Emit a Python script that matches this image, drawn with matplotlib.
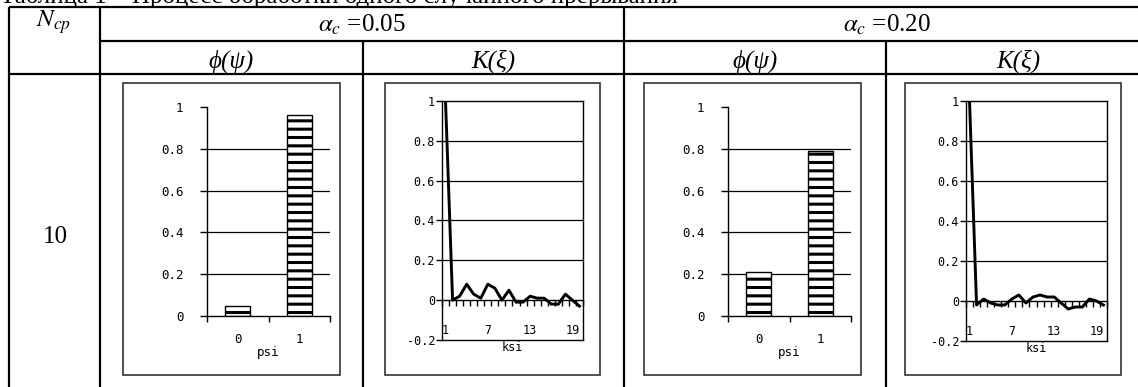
import numpy as np
import matplotlib
matplotlib.use("Agg")
import matplotlib.pyplot as plt
from matplotlib.patches import Rectangle

W, H = 1138, 387

caption = "Таблица 1 – Процесс обработки одного случайного прерывания"
n_cp = "10"
alpha_labels = ["0.05", "0.20"]

psi_cats = [0, 1]
phi_005 = [0.05, 0.96]
phi_020 = [0.21, 0.79]

ksi = list(range(1, 21))
k_005 = [1.0, 0.0, 0.02, 0.08, 0.03, 0.01, 0.08, 0.06, 0.0, 0.05,
         -0.01, -0.01, 0.02, 0.01, 0.01, -0.02, -0.02, 0.03, 0.0, -0.03]
k_020 = [1.0, -0.02, 0.01, -0.01, -0.02, -0.02, 0.01, 0.03, -0.01, 0.02,
         0.03, 0.02, 0.02, -0.01, -0.04, -0.03, -0.03, 0.01, 0.0, -0.02]
ksi_labels = [1, 7, 13, 19]

phi_yticks = [0, 0.2, 0.4, 0.6, 0.8, 1]
k_yticks = [-0.2, 0, 0.2, 0.4, 0.6, 0.8, 1]

plt.rcParams['font.family'] = 'DejaVu Sans Mono'
plt.rcParams['mathtext.fontset'] = 'stix'
plt.rcParams['hatch.linewidth'] = 2.2

SERIF = ['Liberation Serif', 'DejaVu Serif']

fig = plt.figure(figsize=(W / 100, H / 100), dpi=100)
base = fig.add_axes([0, 0, 1, 1])
base.set_xlim(0, W)
base.set_ylim(H, 0)
base.axis('off')


def px_axes(l, t, r, b):
    return fig.add_axes([l / W, 1 - b / H, (r - l) / W, (b - t) / H])


# таблица
lw_tab = 1.6
base.hlines(7, 9, W, color='black', lw=lw_tab)
base.hlines(41, 100, W, color='black', lw=lw_tab)
base.hlines(74, 9, W, color='black', lw=lw_tab)
base.vlines([9, 100, 624], 7, H, color='black', lw=lw_tab)
base.vlines([363, 886], 41, H, color='black', lw=lw_tab)

base.text(0, 2.5, caption, fontsize=18, family=SERIF, va='baseline', ha='left')
base.text(54, 22, r'$N_{cp}$', fontsize=18, ha='center', va='center')
for cx, a in zip([362, 887], alpha_labels):
    base.text(cx, 25, r'$\alpha_c$ =' + a, fontsize=18, family=SERIF,
              ha='center', va='center')
for cx in [231, 755]:
    base.text(cx, 68, 'ϕ(ψ)', fontsize=18, family=SERIF, style='italic',
              ha='center', va='baseline')
for cx in [493, 1018]:
    base.text(cx, 68, 'K(ξ)', fontsize=18, family=SERIF, style='italic',
              ha='center', va='baseline')
base.text(55, 237, n_cp, fontsize=18, family=SERIF, ha='center', va='center')

panels = [
    dict(kind='phi', vals=phi_005, box=(123, 83, 340, 375), plot=(207, 107, 330, 316)),
    dict(kind='k', vals=k_005, box=(385, 83, 600, 375), plot=(442, 101, 583, 340)),
    dict(kind='phi', vals=phi_020, box=(644, 83, 861, 375), plot=(728, 107, 851, 316)),
    dict(kind='k', vals=k_020, box=(905, 83, 1121, 375), plot=(966, 101, 1107, 341)),
]


def draw_phi(ax, vals):
    for y in phi_yticks[1:-1]:
        ax.axhline(y, color='black', lw=0.9, zorder=1)
    ax.bar(psi_cats, vals, width=0.4, color='white', edgecolor='black',
           hatch='--', lw=1.0, zorder=2)
    ax.set_xlim(-0.5, 1.5)
    ax.set_ylim(0, 1)
    ax.set_yticks(phi_yticks)
    ax.set_yticklabels(['%g' % v for v in phi_yticks])
    ax.tick_params(axis='y', length=5, width=1, pad=12, labelsize=9)
    ax.set_xticks(psi_cats)
    ax.set_xticklabels([str(c) for c in psi_cats])
    ax.set_xticks([-0.5, 0.5, 1.5], minor=True)
    ax.tick_params(axis='x', which='major', length=0, pad=12, labelsize=9)
    ax.tick_params(axis='x', which='minor', length=4, width=1)
    ax.set_xlabel('psi', fontsize=9)
    ax.xaxis.set_label_coords(0.5, -0.145)
    ax.spines[['top', 'right']].set_visible(False)
    for s in ['left', 'bottom']:
        ax.spines[s].set_linewidth(1.0)
    ax.patch.set_alpha(0)


def draw_k(ax, vals):
    for y in k_yticks[2:-1]:
        ax.axhline(y, color='black', lw=0.9, zorder=1)
    ax.plot(ksi, vals, color='black', lw=2.1, zorder=3)
    ax.set_xlim(0.5, len(ksi) + 0.5)
    ax.set_ylim(-0.2, 1)
    ax.set_yticks(k_yticks)
    ax.set_yticklabels(['%g' % v for v in k_yticks])
    ax.tick_params(axis='y', length=4, width=1, pad=1, labelsize=8.5)
    ax.set_xticks([])
    zero = (0 - (-0.2)) / 1.2
    sec = ax.secondary_xaxis(zero)
    sec.set_xticks(ksi_labels)
    sec.set_xticklabels([str(k) for k in ksi_labels])
    sec.set_xticks(np.arange(0.5, len(ksi) + 1, 1), minor=True)
    sec.tick_params(which='major', length=0, pad=17, labelsize=8.5)
    sec.tick_params(which='minor', length=4, width=1)
    sec.spines['bottom'].set_linewidth(1.0)
    ax.set_xlabel('ksi', fontsize=8.5, labelpad=1)
    for s in ax.spines.values():
        s.set_linewidth(1.0)
    ax.patch.set_alpha(0)


for p in panels:
    l, t, r, b = p['box']
    base.add_patch(Rectangle((l, t), r - l, b - t, fill=False,
                             edgecolor='#333333', lw=1.2))
    ax = px_axes(*p['plot'])
    if p['kind'] == 'phi':
        draw_phi(ax, p['vals'])
    else:
        draw_k(ax, p['vals'])

fig.savefig('out.png', dpi=100)
